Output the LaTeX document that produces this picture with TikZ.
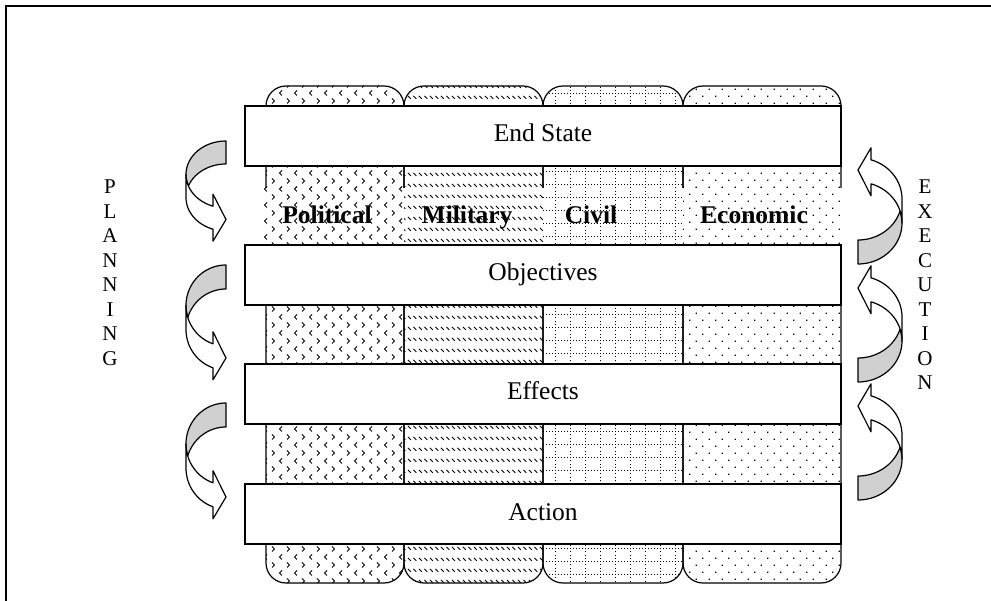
\documentclass[tikz,border=0pt]{standalone}
\usepackage{fontspec}
\setmainfont{Liberation Serif}
\usetikzlibrary{patterns}

% column 1: divots
\pgfdeclarepatternformonly{divotpat}{\pgfqpoint{-1pt}{-1pt}}{\pgfqpoint{16pt}{17pt}}{\pgfqpoint{15pt}{16pt}}{%
  \pgfsetlinewidth{0.9pt}%
  \pgfpathmoveto{\pgfqpoint{12pt}{14.5pt}}\pgfpathlineto{\pgfqpoint{9.5pt}{12pt}}\pgfpathlineto{\pgfqpoint{12pt}{9.5pt}}%
  \pgfpathmoveto{\pgfqpoint{2pt}{6.5pt}}\pgfpathlineto{\pgfqpoint{4.5pt}{4pt}}\pgfpathlineto{\pgfqpoint{2pt}{1.5pt}}%
  \pgfusepath{stroke}}
% column 2: dashed downward diagonal
\pgfdeclarepatternformonly{dashdiag}{\pgfqpoint{-0.5pt}{-0.5pt}}{\pgfqpoint{6pt}{11.5pt}}{\pgfqpoint{5.5pt}{11pt}}{%
  \pgfsetlinewidth{0.75pt}%
  \pgfpathmoveto{\pgfqpoint{1pt}{10pt}}\pgfpathlineto{\pgfqpoint{3.8pt}{7.2pt}}%
  \pgfusepath{stroke}}
% column 3: dotted grid
\pgfdeclarepatternformonly{dotgrid}{\pgfqpoint{-1pt}{-1pt}}{\pgfqpoint{16pt}{14pt}}{\pgfqpoint{15pt}{13pt}}{%
  \foreach \i in {0,3,...,12}{\pgfpathrectangle{\pgfqpoint{\i pt}{0pt}}{\pgfqpoint{0.85pt}{0.85pt}}\pgfusepath{fill}}%
  \foreach \j in {3.25,6.5,9.75}{\pgfpathrectangle{\pgfqpoint{0pt}{\j pt}}{\pgfqpoint{0.85pt}{0.85pt}}\pgfusepath{fill}}}
% column 4: dots
\pgfdeclarepatternformonly{sparsedots}{\pgfqpoint{-1pt}{-1pt}}{\pgfqpoint{14pt}{15pt}}{\pgfqpoint{13pt}{14pt}}{%
  \pgfpathrectangle{\pgfqpoint{0pt}{0pt}}{\pgfqpoint{1.3pt}{1.3pt}}%
  \pgfpathrectangle{\pgfqpoint{6.5pt}{7pt}}{\pgfqpoint{1.3pt}{1.3pt}}%
  \pgfusepath{fill}}

\definecolor{arrowgrey}{RGB}{208,208,208}

\newcommand\curvedarr[5]{% w h th aw ah (local coords, y down)
  \pgfmathsetmacro\cW{#1}%
  \pgfmathsetmacro\cH{#2}%
  \pgfmathsetmacro\cTh{#3}%
  \pgfmathsetmacro\cAw{#4}%
  \pgfmathsetmacro\cAh{#5}%
  \pgfmathsetmacro\cHR{\cH/2-(\cTh+\cAw)/4}%
  \pgfmathsetmacro\cDy{sqrt(\cW*\cW-\cAh*\cAh)*\cHR/\cW}%
  \pgfmathsetmacro\cYv{\cHR+\cDy}%
  \pgfmathsetmacro\cYiii{\cHR+\cTh}%
  \pgfmathsetmacro\cYvii{\cYiii+\cDy}%
  \pgfmathsetmacro\cDh{(\cAw-\cTh)/2}%
  \pgfmathsetmacro\cYiv{\cYv-\cDh}%
  \pgfmathsetmacro\cYviii{\cYvii+\cDh}%
  \pgfmathsetmacro\cYvi{\cH-\cAw/2}%
  \pgfmathsetmacro\cXi{\cW-\cAh}%
  \pgfmathsetmacro\cAl{acos(\cAh/\cW)}%
  \pgfmathsetmacro\cBe{asin(\cTh/(2*\cHR))}%
  \pgfmathsetmacro\cEa{180-\cBe}%
  \pgfmathsetmacro\cEb{180+\cBe}%
  \pgfmathsetmacro\cEc{180-\cAl}%
  \filldraw[arrline, fill=arrowgrey] (\cW,0)
    -- plot[domain=270:\cEa, samples=40] ({\cW+\cW*cos(\x)},{\cHR+\cHR*sin(\x)})
    -- plot[domain=\cEb:270, samples=40] ({\cW+\cW*cos(\x)},{\cYiii+\cHR*sin(\x)})
    -- cycle;
  \filldraw[arrline, fill=white] (0,\cHR)
    -- plot[domain=180:\cEc, samples=40] ({\cW+\cW*cos(\x)},{\cHR+\cHR*sin(\x)})
    -- (\cXi,\cYiv) -- (\cW,\cYvi) -- (\cXi,\cYviii) -- (\cXi,\cYvii)
    -- plot[domain=\cEc:180, samples=40] ({\cW+\cW*cos(\x)},{\cYiii+\cHR*sin(\x)})
    -- cycle;
}

\begin{document}
\begin{tikzpicture}[x=1pt,y=-1pt,
  arrline/.style={line width=1.2pt, line join=round},
  colborder/.style={line width=1.2pt},
  bandbox/.style={draw, fill=white, line width=1.3pt, minimum width=596pt, minimum height=60pt, inner sep=0pt, text height=17pt, text depth=5pt, font=\fontsize{25.5}{30}\selectfont},
  collabel/.style={inner sep=0pt, text height=17pt, text depth=5pt, font=\bfseries\fontsize{25.5}{30}\selectfont},
  vlabel/.style={inner sep=0pt, align=center, anchor=north, font=\fontsize{21}{24.5}\selectfont}]
\useasboundingbox (0,0) rectangle (991,601);

% frame
\draw[line width=2pt] (6,601) -- (6,6) -- (991,6);

% columns
\path[draw, colborder, pattern=divotpat, rounded corners=20pt] (266,583) rectangle (404,86);
\path[draw, colborder, pattern=dashdiag, rounded corners=20pt] (404,583) rectangle (543,86);
\path[draw, colborder, pattern=dotgrid, rounded corners=20pt] (543,583) rectangle (683,86);
\path[draw, colborder, pattern=sparsedots, rounded corners=20pt] (683,583) rectangle (841,86);

% label band (no borders)
\fill[white] (264,188) rectangle (843,245);
\fill[pattern=divotpat] (264,188) rectangle (404,245);
\fill[pattern=dashdiag] (404,188) rectangle (543,245);
\fill[pattern=dotgrid] (543,188) rectangle (683,245);
\fill[pattern=sparsedots] (683,188) rectangle (843,245);

\node[collabel] (pol) at (327,218) {Political};
\node[collabel] (mil) at (467,218) {Military};
\node[collabel] (civ) at (591,218) {Civil};
\node[collabel] (eco) at (754,218) {Economic};

% bands
\node[bandbox] (es)  at (543,136) {End State};
\node[bandbox] (obj) at (543,275) {Objectives};
\node[bandbox] (eff) at (543,394) {Effects};
\node[bandbox] (act) at (543,514) {Action};

% vertical labels
\node[vlabel] (plan) at (110,180) {P\\L\\A\\N\\N\\I\\N\\G};
\node[vlabel] (exec) at (925,180) {E\\X\\E\\C\\U\\T\\I\\O\\N};

% planning arrows
\begin{scope}[shift={(186,141)}] \curvedarr{40}{102}{23}{47}{13} \end{scope}
\begin{scope}[shift={(186,265)}] \curvedarr{40}{117}{24}{48}{13} \end{scope}
\begin{scope}[shift={(186,403)}] \curvedarr{40}{118}{24}{48}{13} \end{scope}

% execution arrows
\begin{scope}[shift={(902,264)}, rotate=180] \curvedarr{44}{118}{24}{48}{13} \end{scope}
\begin{scope}[shift={(902,382)}, rotate=180] \curvedarr{44}{118}{24}{48}{13} \end{scope}
\begin{scope}[shift={(902,500)}, rotate=180] \curvedarr{44}{118}{24}{48}{13} \end{scope}
\end{tikzpicture}
\end{document}
